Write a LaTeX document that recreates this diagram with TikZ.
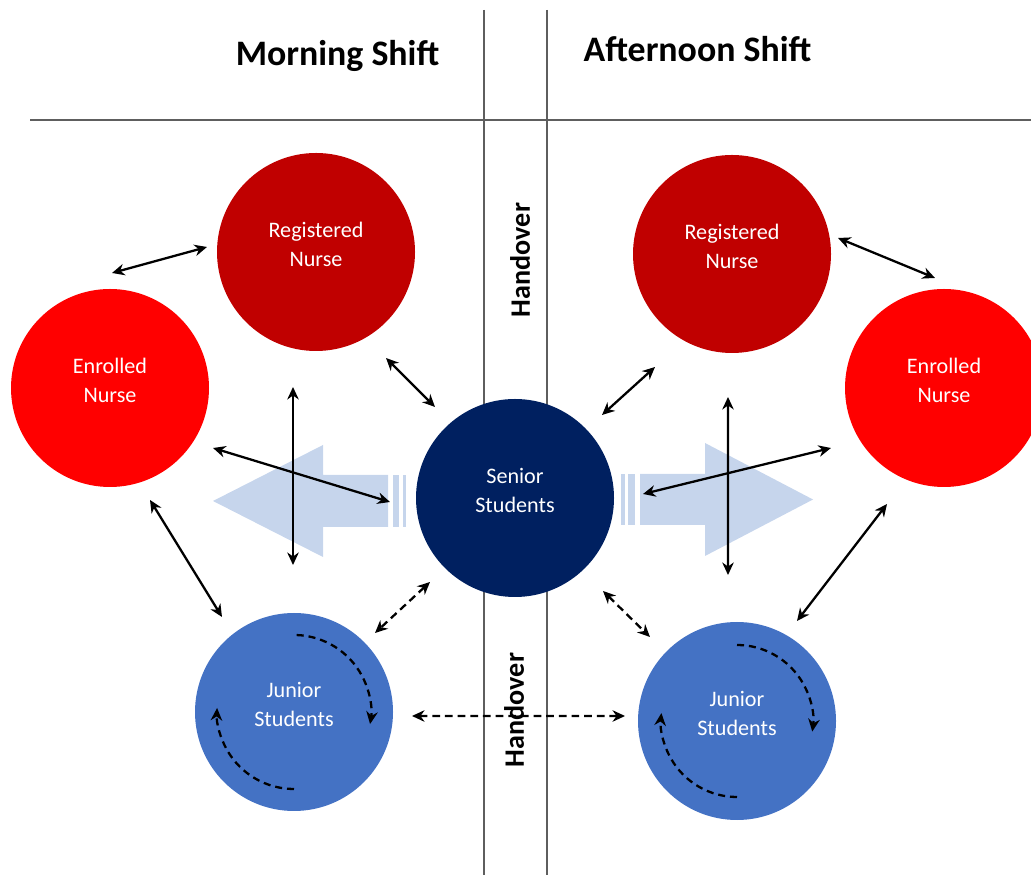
\documentclass[tikz,border=0pt]{standalone}
\usepackage{fontspec}
\setmainfont{Carlito}
\usepackage{xcolor}
\usepackage{tikz}
\usetikzlibrary{arrows.meta,calc}

\definecolor{rnred}{HTML}{C00000}
\definecolor{enred}{HTML}{FF0000}
\definecolor{srnavy}{HTML}{002060}
\definecolor{jrblue}{HTML}{4472C4}
\definecolor{flowblue}{HTML}{C6D5EC}
\definecolor{rulegray}{HTML}{5E5E5E}

\begin{document}
\begin{tikzpicture}[
    member/.style={circle, minimum size=1.98cm, inner sep=0pt, text=white, align=center,
                   font=\fontsize{6.3}{8.2}\selectfont, text depth=0.16cm},
    rn/.style={member, fill=rnred},
    en/.style={member, fill=enred},
    sr/.style={member, fill=srnavy},
    jr/.style={member, fill=jrblue},
    shifthead/.style={font=\bfseries\fontsize{10.2}{12}\selectfont, anchor=base},
    handtxt/.style={font=\bfseries\fontsize{8}{10}\selectfont, rotate=90},
    rule/.style={draw=rulegray, line width=0.6pt},
    flow/.style={fill=flowblue},
    link/.style={{Stealth[length=1.25mm,width=1.15mm]}-{Stealth[length=1.25mm,width=1.15mm]}, line width=0.65pt},
    dlink/.style={link, dash pattern=on 2.2pt off 1.4pt},
    turn/.style={-{Stealth[length=1.25mm,width=1.15mm]}, line width=0.65pt, dash pattern=on 2pt off 1.4pt}
  ]
  \useasboundingbox (0,0) rectangle (10.31,8.75);

  % shift columns and handover strip
  \draw[rule] (0.30,7.55) -- (10.31,7.55);
  \draw[rule] (4.84,8.65) -- (4.84,0);
  \draw[rule] (5.47,8.65) -- (5.47,0);

  \node[shifthead] (morn) at (3.375,8.09) {Morning Shift};
  \node[shifthead] (aftn) at (6.975,8.13) {Afternoon Shift};
  \node[handtxt] (hoTop) at (5.20,6.15) {Handover};
  \node[handtxt] (hoBot) at (5.14,1.65) {Handover};

  % big flow arrows with striped tails
  \fill[flow] (3.88,4.00) -- (3.23,4.00) -- (3.23,4.30) -- (2.13,3.74)
              -- (3.23,3.18) -- (3.23,3.48) -- (3.88,3.48) -- cycle;
  \fill[flow] (3.93,3.48) rectangle (3.99,4.00);
  \fill[flow] (4.03,3.48) rectangle (4.06,4.00);
  \fill[flow] (6.40,4.01) -- (7.05,4.01) -- (7.05,4.32) -- (8.13,3.755)
              -- (7.05,3.19) -- (7.05,3.50) -- (6.40,3.50) -- cycle;
  \fill[flow] (6.21,3.50) rectangle (6.25,4.01);
  \fill[flow] (6.28,3.50) rectangle (6.35,4.01);

  % staff
  \node[rn] (rnL) at (3.16,6.23) {Registered\\Nurse};
  \node[en] (enL) at (1.10,4.87) {Enrolled\\Nurse};
  \node[sr] (sen) at (5.15,3.77) {Senior\\Students};
  \node[jr] (jnL) at (2.94,1.63) {Junior\\Students};
  \node[rn] (rnR) at (7.32,6.21) {Registered\\Nurse};
  \node[en] (enR) at (9.44,4.87) {Enrolled\\Nurse};
  \node[jr] (jnR) at (7.37,1.54) {Junior\\Students};

  % morning links
  \draw[link] ($(rnL)+(-1.09,0.05)$) -- ($(enL)+(0.02,1.15)$);
  \draw[link] ($(rnL)+(0.70,-1.06)$) -- ($(sen)+(-0.80,0.91)$);
  \draw[link] ($(rnL)+(-0.23,-1.35)$) -- ($(jnL)+(-0.01,1.47)$);
  \draw[link] ($(enL)+(1.03,-0.60)$) -- ($(sen)+(-1.25,-0.04)$);
  \draw[link] ($(enL)+(0.40,-1.12)$) -- ($(jnL)+(-0.72,0.95)$);
  \draw[dlink] ($(sen)+(-0.85,-0.84)$) -- ($(jnL)+(0.81,0.79)$);

  % afternoon links
  \draw[link] ($(rnR)+(1.06,0.16)$) -- ($(enR)+(-0.09,1.10)$);
  \draw[link] ($(rnR)+(-0.77,-1.13)$) -- ($(sen)+(0.87,0.83)$);
  \draw[link] ($(rnR)+(-0.04,-1.43)$) -- ($(jnR)+(-0.09,1.46)$);
  \draw[link] ($(sen)+(1.28,0.04)$) -- ($(enR)+(-1.13,-0.60)$);
  \draw[link] ($(enR)+(-0.57,-1.16)$) -- ($(jnR)+(0.60,1.00)$);
  \draw[dlink] ($(sen)+(0.88,-0.93)$) -- ($(jnR)+(-0.87,0.84)$);

  % juniors across the handover
  \draw[dlink] ($(jnL)+(1.18,-0.04)$) -- ($(jnR)+(-1.12,0.05)$);

  % rotation within the junior groups
  \draw[turn] ($(jnL)+(88:0.77)$) arc[start angle=88, end angle=-9, radius=0.77];
  \draw[turn] ($(jnL)+(-90:0.77)$) arc[start angle=-90, end angle=-183, radius=0.77];
  \draw[turn] ($(jnR)+(90:0.76)$) arc[start angle=90, end angle=-8, radius=0.76];
  \draw[turn] ($(jnR)+(-90:0.76)$) arc[start angle=-90, end angle=-186, radius=0.76];
\end{tikzpicture}
\end{document}
